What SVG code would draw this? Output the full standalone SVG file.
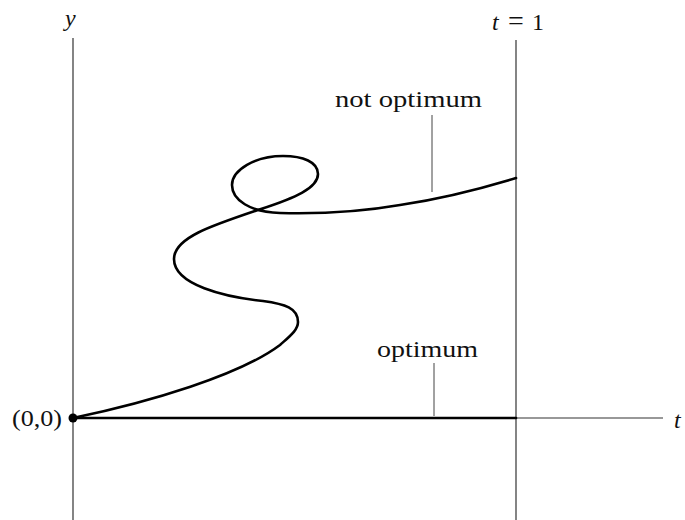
<svg xmlns="http://www.w3.org/2000/svg" width="685" height="520" viewBox="0 0 685 520">
<style>
.axis{stroke:#333;stroke-width:1.2;fill:none}
.lead{stroke:#444;stroke-width:1;fill:none}
.curve{stroke:#000;stroke-width:2.6;fill:none;stroke-linecap:round;stroke-linejoin:round}
.lbl{font-family:"Liberation Serif","Times New Roman",serif;font-size:24px;fill:#111}
.it{font-style:italic}
</style>
<rect width="685" height="520" fill="#fff"/>
<g id="axes">
<line class="axis" x1="73" y1="38" x2="73" y2="520"/>
<line class="axis" x1="516" y1="40" x2="516" y2="520"/>
<line class="axis" x1="73" y1="418" x2="663" y2="418"/>
</g>
<g id="connectors">
<path id="not-optimum-curve" class="curve" d="M73,418 C150,402 240,375 280,345 C290,336 298,330 298,322 C298,308 285,304 263,301 C225,297 174,285 174,259 C174,238 210,226 261,209 C295,198 318,188 318,174 C318,162 303,156 283,156 C255,156 232,170 232,185 C232,200 250,212 280,213 C320,214 360,212 400,205 C440,199 480,189 516,178"/>
<line id="optimum-line" class="curve" x1="73" y1="418" x2="516" y2="418"/>
<line class="lead" x1="432" y1="115" x2="432" y2="192"/>
<line class="lead" x1="434" y1="363" x2="434" y2="416"/>
</g>
<g id="origin">
<circle cx="73" cy="418" r="4.5" fill="#000"/>
<text class="lbl" x="12" y="426" textLength="50" lengthAdjust="spacingAndGlyphs">(0,0)</text>
</g>
<g id="labels">
<text class="lbl it" x="65" y="26">y</text>
<text class="lbl it" x="674" y="428">t</text>
<text class="lbl" y="30"><tspan class="it" x="492">t</tspan><tspan x="508" font-size="28">=</tspan><tspan x="532">1</tspan></text>
<text class="lbl" x="335" y="107" textLength="147" lengthAdjust="spacingAndGlyphs">not optimum</text>
<text class="lbl" x="377" y="357" textLength="101" lengthAdjust="spacingAndGlyphs">optimum</text>
</g>
</svg>
